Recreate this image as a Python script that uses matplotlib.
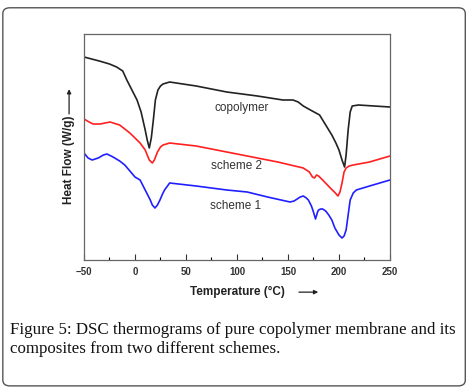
import matplotlib.pyplot as plt
from matplotlib.patches import FancyBboxPatch

# temperature (deg C) and heat flow (arbitrary, offset)
t_copo = [-50, -35, -25, -18, -12, -8, -3, 2, 6, 10, 12, 14, 16, 18, 20, 22.5, 25, 27.5, 34, 60, 90,
          120, 145, 150, 155, 160, 165, 172, 181, 187, 193, 197, 200, 203, 205.5, 207, 209, 211, 213,
          219, 250]
hf_copo = [203, 199, 196, 193, 189, 180, 170, 160, 148, 130, 120, 112, 122, 140, 160, 170, 174, 176,
           178, 174, 168, 164, 160, 160, 160, 158, 154, 150, 145, 135, 125, 117, 110, 100, 93, 105, 130,
           148, 154, 155, 153]

t_s2 = [-50, -45, -41, -34, -24.5, -15, -5, 0, 5, 10, 12, 14, 17, 19, 22, 25, 27.5, 34, 60, 100,
        140, 165, 171, 174, 176, 178, 180, 184, 191.5, 196.5, 199, 201, 203, 205, 207, 210, 214, 230,
        250]
hf_s2 = [141, 138, 136, 136, 138, 135, 127, 122, 117, 110, 105, 100, 97, 100, 108, 113, 115, 117, 114,
         106, 98, 92, 88, 83, 82, 85, 84, 80, 72, 67, 64, 68, 77, 88, 92, 94, 95, 98, 104]

t_s1 = [-50, -46, -42, -36, -31, -27.5, -21.5, -15, -10, -5, 0, 5, 10, 15, 17, 19.6, 22, 24.5, 27,
        29, 34, 60, 90, 110, 130, 152, 156, 159, 162, 165, 168, 170, 173, 175, 177, 179, 180, 182, 184,
        187, 190, 193, 196, 200, 203, 205, 207, 209, 211, 214, 217, 230, 250]
hf_s1 = [107, 102, 100, 102, 105, 106, 103, 99, 95, 89, 83, 80, 70, 60, 55, 52, 55, 60, 66, 70, 77,
         74, 70, 68, 63, 58, 59, 61, 63, 64, 62, 60, 54, 48, 41, 48, 50, 51, 51, 49, 45, 40, 32, 25,
         22, 24, 30, 45, 60, 67, 70, 74, 80]

fig = plt.figure(figsize=(4.70, 3.89), dpi=100)

# rounded frame around the whole figure panel
frame = FancyBboxPatch((0.006, 0.008), 0.984, 0.972, boxstyle="round,pad=0,rounding_size=0.015",
                       transform=fig.transFigure, fill=False, edgecolor="#555555", linewidth=1.0)
fig.patches.append(frame)

ax = fig.add_axes([0.1787, 0.3316, 0.651, 0.581])
ax.plot(t_copo, hf_copo, color="#222222", linewidth=1.2)
ax.plot(t_s2, hf_s2, color="#ff2020", linewidth=1.2)
ax.plot(t_s1, hf_s1, color="#2020ff", linewidth=1.2)

ax.text(105, 152, "copolymer", ha="center", va="center", fontsize=8.5, color="#333333",
        family="Liberation Sans")
ax.text(100, 94, "scheme 2", ha="center", va="center", fontsize=8.5, color="#333333",
        family="Liberation Sans")
ax.text(99, 54, "scheme 1", ha="center", va="center", fontsize=8.5, color="#333333",
        family="Liberation Sans")

ax.set_xlim(-50, 250)
ax.set_ylim(0, 226)
ax.set_yticks([])
ax.set_xticks(range(-50, 251, 50))
ax.set_xticks(range(-50, 251, 25), minor=True)
ax.tick_params(axis="x", direction="in", length=4, width=0.8, labelsize=7, pad=5, colors="#333333")
ax.tick_params(axis="x", which="minor", direction="in", length=2.5, width=0.8)
for lab in ax.get_xticklabels():
    lab.set_fontweight("bold")
    lab.set_family("Liberation Sans")
for s in ax.spines.values():
    s.set_color("#666666")
    s.set_linewidth(0.9)

fig.text(0.506, 0.249, "Temperature (\u00b0C)", ha="center", va="center", fontsize=8.5,
         fontweight="bold", family="Liberation Sans", color="#222222")
fig.text(0.147, 0.589, "Heat Flow (W/g)", ha="center", va="center", rotation=90, fontsize=8.5,
         fontweight="bold", family="Liberation Sans", color="#222222")
ax.annotate("", xy=(0.683, 0.249), xytext=(0.630, 0.249), xycoords="figure fraction",
            arrowprops=dict(arrowstyle="-|>", color="#222222", lw=0.9, mutation_scale=6))
ax.annotate("", xy=(0.147, 0.778), xytext=(0.147, 0.700), xycoords="figure fraction",
            arrowprops=dict(arrowstyle="-|>", color="#222222", lw=0.9, mutation_scale=6))

fig.text(0.022, 0.152, "Figure 5: DSC thermograms of pure copolymer membrane and its",
         ha="left", va="center", fontsize=12.2, family="Liberation Serif", color="#111111")
fig.text(0.022, 0.103, "composites from two different schemes.",
         ha="left", va="center", fontsize=12.2, family="Liberation Serif", color="#111111")

fig.savefig("out.png", dpi=100)
